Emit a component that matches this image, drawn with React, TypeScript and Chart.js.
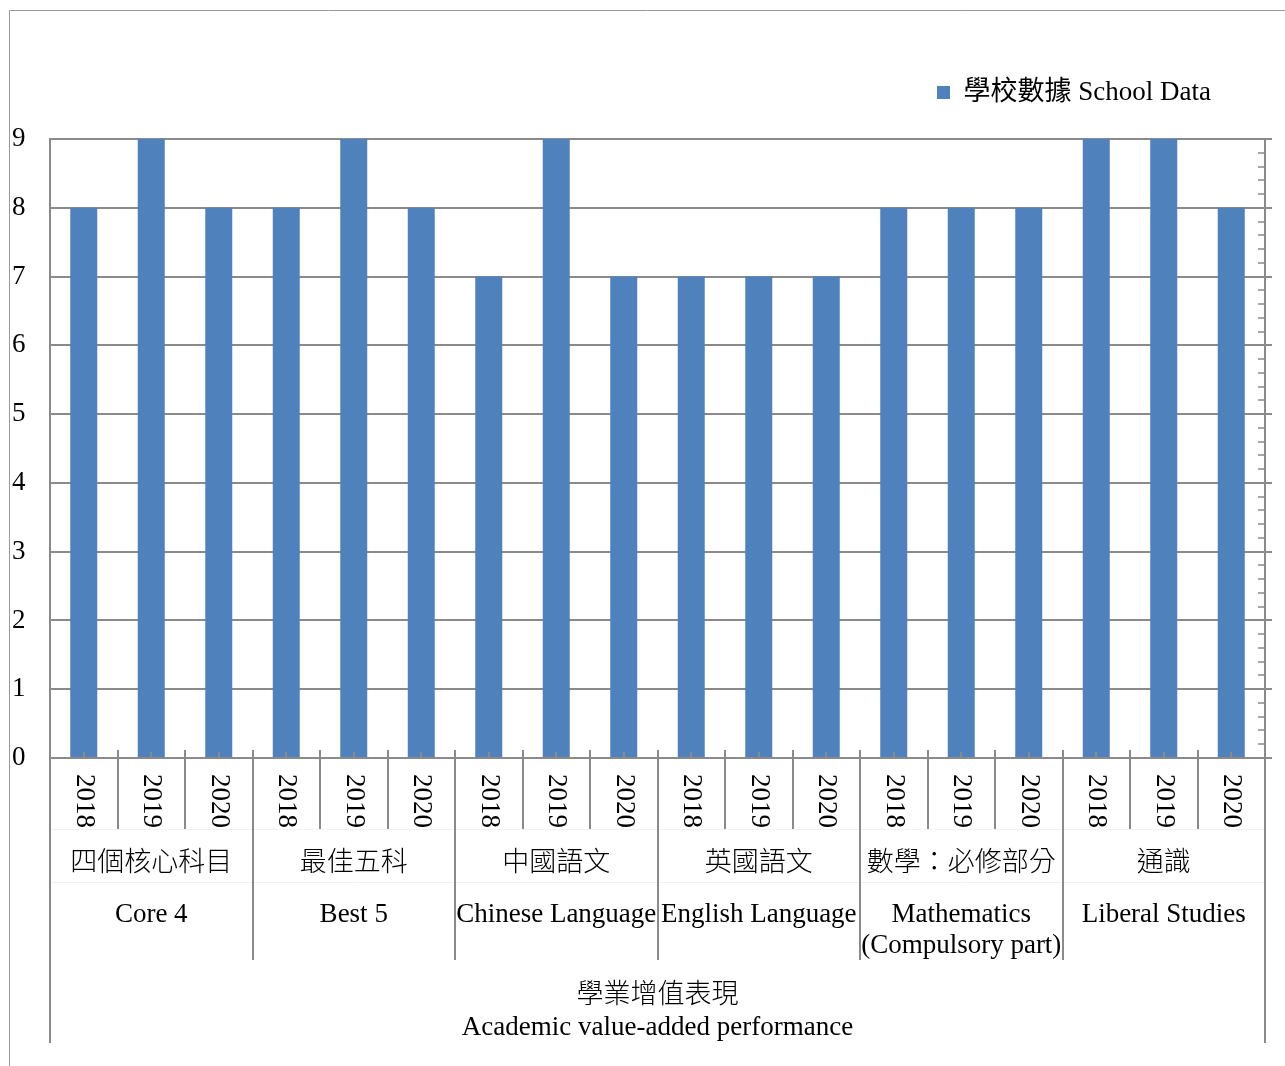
import React, { useEffect, useRef } from 'react';
import { Chart, registerables } from 'chart.js';

Chart.register(...registerables);

// ---------- data ----------
const years = ['2018', '2019', '2020'];
const groupZh = ['四個核心科目', '最佳五科', '中國語文', '英國語文', '數學：必修部分', '通識'];
const groupEn = [
  ['Core 4'],
  ['Best 5'],
  ['Chinese Language'],
  ['English Language'],
  ['Mathematics', '(Compulsory part)'],
  ['Liberal Studies'],
];
const schoolData = [8, 9, 8, 8, 9, 8, 7, 9, 7, 7, 7, 7, 8, 8, 8, 9, 9, 8];
const seriesName = '學校數據 School Data';
const axisTitleZh = '學業增值表現';
const axisTitleEn = 'Academic value-added performance';
const yMin = 0;
const yMax = 9;
const yStep = 1;
const yMinorStep = 0.2;

// ---------- style ----------
const FONT = '"Liberation Serif", "Noto Sans CJK TC", serif';
const FS = 27;
const GRAY = '#8a8a8a';
const BLUE = '#4F81BD';

const categoryLabels = groupZh.flatMap(() => years);

const axisPlugin = {
  id: 'multiLevelAxis',
  beforeDraw(chart: any) {
    const ctx = chart.ctx;
    ctx.save();
    ctx.strokeStyle = '#9a9a9a';
    ctx.lineWidth = 1;
    ctx.beginPath();
    ctx.moveTo(9.5, chart.height);
    ctx.lineTo(9.5, 10.5);
    ctx.lineTo(chart.width, 10.5);
    ctx.stroke();
    ctx.restore();
  },
  afterDraw(chart: any) {
    const ctx = chart.ctx;
    const x = chart.scales.x;
    const y = chart.scales.y;
    const area = chart.chartArea;
    const bottom = area.bottom;
    const n = categoryLabels.length;
    const per = years.length;
    ctx.save();

    // faint row separators
    ctx.strokeStyle = '#f1f1f1';
    ctx.lineWidth = 1;
    [71, 124].forEach((dy) => {
      ctx.beginPath();
      ctx.moveTo(area.left, bottom + dy + 0.5);
      ctx.lineTo(area.right, bottom + dy + 0.5);
      ctx.stroke();
    });

    ctx.strokeStyle = GRAY;
    ctx.lineWidth = 2;
    // small ticks at category centres
    for (let i = 0; i < n; i++) {
      const cx = Math.round(x.getPixelForValue(i));
      ctx.beginPath();
      ctx.moveTo(cx, bottom - 6);
      ctx.lineTo(cx, bottom);
      ctx.stroke();
    }
    // boundaries
    for (let i = 0; i <= n; i++) {
      let bx: number;
      if (i === 0) bx = area.left;
      else if (i === n) bx = area.right;
      else bx = (x.getPixelForValue(i - 1) + x.getPixelForValue(i)) / 2;
      bx = Math.round(bx);
      ctx.beginPath();
      if (i === 0 || i === n) {
        ctx.moveTo(bx, bottom);
        ctx.lineTo(bx, bottom + 285);
      } else if (i % per === 0) {
        ctx.moveTo(bx, bottom - 8);
        ctx.lineTo(bx, bottom + 202);
      } else {
        ctx.moveTo(bx, bottom - 8);
        ctx.lineTo(bx, bottom + 71);
      }
      ctx.stroke();
    }

    // right axis minor ticks (inside)
    ctx.lineWidth = 1.5;
    const steps = Math.round((yMax - yMin) / yMinorStep);
    for (let k = 1; k < steps; k++) {
      const v = yMin + k * yMinorStep;
      if (Math.abs(v - Math.round(v)) < 1e-6) continue;
      const py = Math.round(y.getPixelForValue(v));
      ctx.beginPath();
      ctx.moveTo(area.right - 7, py);
      ctx.lineTo(area.right, py);
      ctx.stroke();
    }

    // year labels (rotated)
    ctx.fillStyle = '#000';
    ctx.font = `${FS}px ${FONT}`;
    for (let i = 0; i < n; i++) {
      const cx = x.getPixelForValue(i);
      ctx.save();
      ctx.translate(cx, bottom + 16);
      ctx.rotate(Math.PI / 2);
      ctx.textAlign = 'left';
      ctx.textBaseline = 'middle';
      ctx.fillText(categoryLabels[i], 0, 0);
      ctx.restore();
    }

    // group labels
    ctx.textAlign = 'center';
    ctx.textBaseline = 'middle';
    groupZh.forEach((g, gi) => {
      const cx = x.getPixelForValue(gi * per + (per - 1) / 2);
      ctx.font = `300 ${FS}px ${FONT}`;
      ctx.fillText(g, cx, bottom + 106);
      ctx.font = `${FS}px ${FONT}`;
      groupEn[gi].forEach((line, li) => {
        ctx.fillText(line, cx, bottom + 157 + li * 31);
      });
    });

    // top-level axis title
    const mid = (area.left + area.right) / 2;
    ctx.font = `300 ${FS}px ${FONT}`;
    ctx.fillText(axisTitleZh, mid, bottom + 238);
    ctx.font = `${FS}px ${FONT}`;
    ctx.fillText(axisTitleEn, mid, bottom + 270);

    ctx.restore();
  },
};

export default function App() {
  const canvasRef = useRef<HTMLCanvasElement | null>(null);

  useEffect(() => {
    const canvas = canvasRef.current;
    if (!canvas) return;
    const chart = new Chart(canvas, {
      type: 'bar',
      data: {
        labels: categoryLabels,
        datasets: [
          {
            label: seriesName,
            data: schoolData,
            backgroundColor: BLUE,
            borderWidth: 0,
            barPercentage: 0.4,
            categoryPercentage: 1,
          },
        ],
      },
      options: {
        responsive: false,
        animation: false,
        devicePixelRatio: 1,
        layout: { padding: { top: 25, left: 12, right: 13, bottom: 0 } },
        plugins: {
          legend: {
            display: true,
            position: 'top',
            align: 'end',
            fullSize: false,
            labels: {
              boxWidth: 13,
              boxHeight: 13,
              padding: 54,
              color: '#000',
              font: { size: FS, family: FONT },
            },
          },
          title: {
            display: true,
            text: ' ',
            weight: 500,
            font: { size: 20, lineHeight: 1 },
            padding: { top: 0, bottom: 3 },
          },
          tooltip: { enabled: false },
        },
        scales: {
          x: {
            type: 'category',
            offset: true,
            z: 1,
            grid: { display: false },
            ticks: { display: false },
            border: { display: true, color: GRAY, width: 2 },
            afterFit(scale: any) {
              scale.height = 308;
            },
          },
          y: {
            position: 'left',
            min: yMin,
            max: yMax,
            ticks: {
              stepSize: yStep,
              color: '#000',
              crossAlign: 'far',
              font: { size: FS, family: FONT },
            },
            grid: { color: GRAY, lineWidth: 2, drawTicks: false },
            border: { display: true, color: GRAY, width: 2 },
            afterFit(scale: any) {
              scale.width = 38;
            },
          },
          y2: {
            position: 'right',
            min: yMin,
            max: yMax,
            ticks: { display: false, stepSize: yStep },
            grid: { drawOnChartArea: false, drawTicks: true, tickLength: 7, color: GRAY, lineWidth: 2 },
            border: { display: true, color: GRAY, width: 2 },
            afterFit(scale: any) {
              scale.width = 7;
            },
          },
        },
      } as any,
      plugins: [axisPlugin],
    });
    return () => chart.destroy();
  }, []);

  return (
    <div style={{ position: 'absolute', left: 0, top: 0, width: 1285, height: 1066, background: '#fff' }}>
      <canvas ref={canvasRef} width={1285} height={1066} style={{ width: 1285, height: 1066, display: 'block' }} />
    </div>
  );
}
